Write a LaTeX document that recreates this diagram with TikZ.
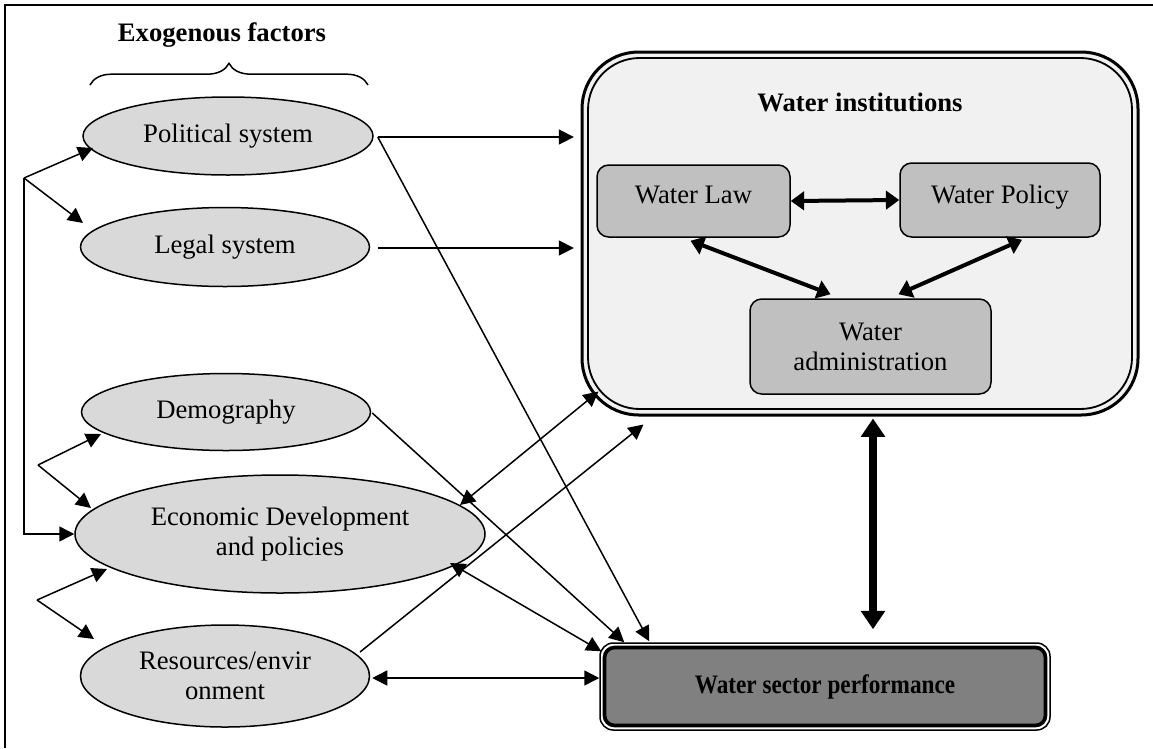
\documentclass[tikz,border=0pt]{standalone}
\usepackage{fontspec}
\setmainfont{Liberation Serif}
\usepackage{graphicx}
\usetikzlibrary{shapes.geometric,arrows.meta,calc,decorations.pathreplacing}

\definecolor{factorfill}{HTML}{D9D9D9}
\definecolor{instfill}{HTML}{F1F1F1}
\definecolor{unitfill}{HTML}{C0C0C0}
\definecolor{perffill}{HTML}{808080}

\begin{document}
\begin{tikzpicture}[x=0.6pt,y=-0.6pt,
  txt/.style={font=\fontsize{16}{18}\selectfont},
  head/.style={font=\bfseries\fontsize{16}{18}\selectfont},
  factor/.style={ellipse, draw, line width=0.9pt, fill=factorfill, inner sep=0pt,
    align=center, txt},
  unitbox/.style={rectangle, rounded corners=7pt, draw, line width=0.9pt,
    fill=unitfill, inner sep=0pt, align=center, txt},
  conn/.style={line width=0.9pt},
  thinhead/.style={>={Triangle[length=9pt,width=9pt]}},
  boldlink/.style={line width=2.4pt, {Triangle[length=8pt,width=11pt]}-{Triangle[length=8pt,width=11pt]}},
  biglink/.style={line width=4.6pt, {Triangle[length=11pt,width=14pt]}-{Triangle[length=11pt,width=14pt]}},
  thinhead]

\useasboundingbox (0,0) rectangle (1153,748);

% frame
\draw[line width=1pt] (5,748) -- (5,5) -- (1153,5);

% exogenous factors
\node[head] (exo) at (222,35) {Exogenous factors};
\draw[line width=0.9pt, decorate, decoration={brace, amplitude=13pt}] (90,85) -- (368,85);

\node[factor, minimum width=174pt, minimum height=46.8pt] (pol) at (228,136) {Political system};
\node[factor, minimum width=173.4pt, minimum height=47.4pt] (leg) at (225,247) {Legal system};
\node[factor, minimum width=173.4pt, minimum height=46.2pt] (dem) at (226,412) {Demography};
\node[factor, minimum width=246pt, minimum height=70.8pt] (eco) at (280,534) {Economic Development\\and policies};
\node[factor, minimum width=173.4pt, minimum height=61.2pt] (res) at (225,676) {Resources/envir\\onment};

% water institutions
\node[rectangle, rounded corners=34pt, draw, line width=1.8pt, fill=instfill,
  minimum width=333.6pt, minimum height=217.8pt,
  path picture={\draw[line width=1.1pt, rounded corners=31pt]
    ([shift={(6,-6)}]path picture bounding box.south west) rectangle
    ([shift={(-6,6)}]path picture bounding box.north east);}]
  (inst) at (860,233.5) {};
\node[head] (insttitle) at (860,102) {Water institutions};

\node[unitbox, minimum width=115.8pt, minimum height=43.2pt, text depth=7pt] (law) at (693.5,201) {Water Law};
\node[unitbox, minimum width=120pt, minimum height=44.4pt, text depth=7pt] (policy) at (1000,200) {Water Policy};
\node[unitbox, minimum width=144.6pt, minimum height=57pt] (admin) at (870.5,346.5) {Water\\administration};

% water sector performance
\node[rectangle, rounded corners=8pt, draw, line width=0.9pt, fill=white,
  minimum width=270pt, minimum height=52.2pt, head,
  path picture={\draw[line width=2.2pt, rounded corners=6pt, fill=perffill]
    ([shift={(4.5,-4.5)}]path picture bounding box.south west) rectangle
    ([shift={(-4.5,4.5)}]path picture bounding box.north east);}]
  (perf) at (825,686.5) {\raisebox{3pt}{\scalebox{0.87}[1]{Water sector performance}}};

% links among the exogenous factors
\coordinate (c1) at (24,178);
\draw[conn,->] (c1) -- ($(pol.center)+(-135,12)$);
\draw[conn,->] (c1) -- ($(leg.center)+(-142,-24)$);
\draw[conn,->] (c1) |- (eco.west);

\coordinate (c2) at (38,465);
\draw[conn,->] (c2) -- ($(dem.center)+(-125,22)$);
\draw[conn,->] (c2) -- ($(eco.center)+(-189,-26)$);

\coordinate (c3) at (37,600);
\draw[conn,->] (c3) -- ($(eco.center)+(-173,35)$);
\draw[conn,->] (c3) -- ($(res.center)+(-131,-37)$);

% factors to institutions and performance
\coordinate (p0) at ($(pol.east)+(4,1)$);
\coordinate (p1) at ($(leg.east)+(8,1)$);
\draw[conn,->,shorten >=4pt] (p0) -- (p0 -| inst.west);
\draw[conn,->,shorten >=4pt] (p1) -- (p1 -| inst.west);
\draw[conn,->] (p0) -- ($(perf.north west)+(50,-1)$);
\draw[conn,->] ($(dem.east)+(1,1)$) -- ($(perf.north west)+(25,0)$);
\draw[conn,<->] ($(eco.center)+(180,-29)$) -- ($(inst.south west)+(18,-25)$);
\draw[conn,<->] ($(eco.center)+(170,29)$) -- ($(perf.north west)+(2,9)$);
\draw[conn,->] ($(res.center)+(135,-24)$) -- ($(inst.south west)+(63,8)$);
\coordinate (r0) at ($(res.east)+(2,2)$);
\draw[conn,<->] (r0) -- (r0 -| perf.west);

% links inside the institutions
\draw[boldlink] (law.east) -- (policy.west);
\draw[boldlink] ($(law.south)+(-3,3)$) -- ($(admin.north)+(-40,-4)$);
\draw[boldlink] ($(policy.south)+(22,2)$) -- ($(admin.north)+(28,-4)$);

% institutions and performance
\draw[biglink] ($(inst.south)+(13,2)$) -- ($(perf.north)+(48,-13)$);

\end{tikzpicture}
\end{document}
